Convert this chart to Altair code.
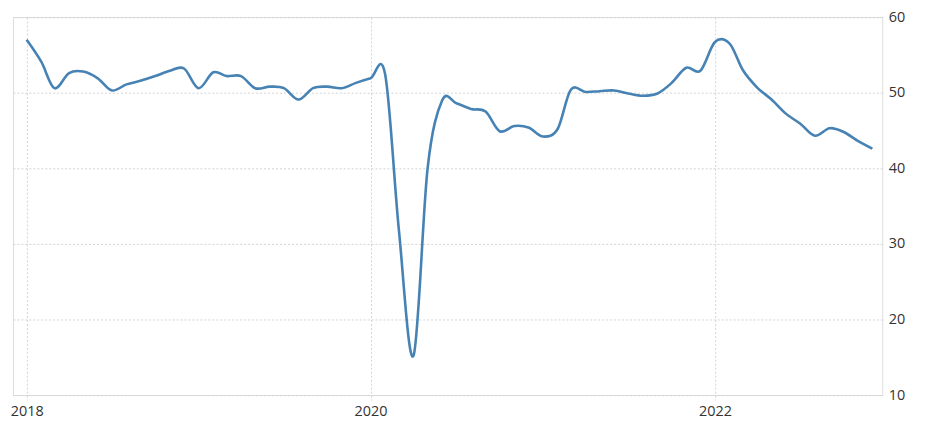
import altair as alt
import pandas as pd

dates = pd.date_range("2018-01-01", "2022-12-01", freq="MS").strftime("%Y-%m-%d").tolist()

values_2018 = [57.0, 54.1, 50.6, 52.6, 52.8, 51.9, 50.3, 51.1, 51.6, 52.2, 52.9, 53.2]
values_2019 = [50.6, 52.7, 52.2, 52.2, 50.6, 50.8, 50.6, 49.1, 50.6, 50.8, 50.6, 51.3]
values_2020 = [51.9, 52.4, 31.9, 15.2, 40.0, 49.0, 48.6, 47.85, 47.5, 44.9, 45.6, 45.4]
values_2021 = [44.2, 45.2, 50.4, 50.1, 50.2, 50.3, 49.9, 49.6, 49.9, 51.3, 53.3, 52.9]
values_2022 = [56.7, 56.5, 53.0, 50.65, 49.1, 47.2, 45.9, 44.3, 45.3, 44.8, 43.6, 42.6]

values = values_2018 + values_2019 + values_2020 + values_2021 + values_2022

y_ticks = [10, 20, 30, 40, 50, 60]
x_tick_years = [2018, 2020, 2022]

df = pd.DataFrame({"date": dates, "value": values})

font = "Open Sans"
grid_color = "#d3d3d3"

chart = (
    alt.Chart(df)
    .mark_line(color="#4682b4", strokeWidth=2.6, interpolate="cardinal")
    .encode(
        x=alt.X(
            "date:T",
            title=None,
            scale=alt.Scale(
                type="utc",
                domain=[
                    alt.DateTime(year=2017, month=12, date=3, utc=True),
                    alt.DateTime(year=2022, month=12, date=22, utc=True),
                ],
            ),
            axis=alt.Axis(
                values=[alt.DateTime(year=y, month=1, date=1, utc=True) for y in x_tick_years],
                format="%Y",
                formatType="utc",
                grid=True,
                gridColor=grid_color,
                gridDash=[2, 2],
                gridWidth=1,
                domain=False,
                ticks=True,
                tickColor=grid_color,
                tickDash=[2, 2],
                tickSize=5,
                labelFont=font,
                labelFontSize=14.5,
                labelColor="#333333",
                labelPadding=5,
                labelFlush=False,
            ),
        ),
        y=alt.Y(
            "value:Q",
            title=None,
            scale=alt.Scale(domain=[10, 60], nice=False, zero=False),
            axis=alt.Axis(
                orient="right",
                values=y_ticks,
                grid=True,
                gridColor=grid_color,
                gridDash=[2, 2],
                gridWidth=1,
                domain=False,
                ticks=False,
                labelFont=font,
                labelFontSize=14.5,
                labelColor="#333333",
                labelPadding=6,
            ),
        ),
    )
    .properties(
        width=874,
        height=380,
        autosize=alt.AutoSizeParams(type="none"),
        padding={"left": 5, "top": 8, "right": 50, "bottom": 40},
    )
    .configure_view(stroke=None)
    .configure(background="white")
)

chart.save("out.html", embed_options={"renderer": "svg", "actions": False})
